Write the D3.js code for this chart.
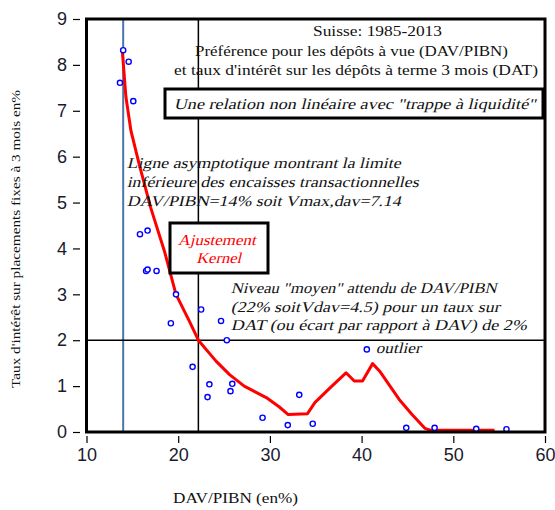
<!DOCTYPE html>
<html>
<head>
<meta charset="utf-8">
<script src="https://cdn.jsdelivr.net/npm/d3@7"></script>
<style>
  body { margin: 0; background: #fff; }
  svg { display: block; }
</style>
</head>
<body>
<svg id="chart"></svg>
<script>
// observed points: DAV/PIBN (%) vs 3-month deposit rate (%)
const davPibn = [14.0, 14.6, 13.65, 15.1, 15.83, 16.66, 16.5, 16.66, 17.64, 19.76, 22.5, 24.67, 19.2, 25.3,
                 40.57, 21.57, 23.4, 23.2, 25.7, 25.9, 29.2, 31.95, 33.2, 34.67, 44.87, 47.96, 52.5, 55.8];
const tauxDat = [8.32, 8.07, 7.61, 7.21, 4.31, 4.39, 3.51, 3.54, 3.51, 3.0, 2.67, 2.42, 2.37, 2.0,
                 1.80, 1.42, 1.04, 0.76, 0.89, 1.05, 0.31, 0.15, 0.81, 0.18, 0.09, 0.09, 0.07, 0.06];

// kernel fit
const kernelX = [13.9, 14.3, 14.85, 15.75, 17.0, 18.5, 19.76, 21.2, 22.2, 24.1, 25.6, 27.2, 29.6, 31.0, 32.0,
                 34.1, 34.9, 36.5, 38.3, 39.2, 40.1, 41.2, 41.95, 44.1, 45.5, 46.9, 47.5, 54.5];
const kernelY = [8.32, 7.3, 6.56, 5.83, 4.89, 3.94, 3.0, 2.42, 2.0, 1.55, 1.25, 1.0, 0.75, 0.55, 0.38,
                 0.40, 0.64, 0.95, 1.29, 1.11, 1.11, 1.49, 1.33, 0.71, 0.38, 0.08, 0.04, 0.04];

const xTicks = [10, 20, 30, 40, 50, 60];
const yTicks = [0, 1, 2, 3, 4, 5, 6, 7, 8, 9];

const asymptote = 14;      // DAV/PIBN lower limit
const moyenX = 22.2;       // expected level
const moyenY = 2;

const width = 555, height = 510;
const plotLeft = 86.5, plotRight = 545, plotTop = 19, plotBottom = 432;

const svg = d3.select("#chart").attr("width", width).attr("height", height);

const x = d3.scaleLinear().domain([10, 60]).range([plotLeft, plotRight]);
const y = d3.scaleLinear().domain([0, 9]).range([plotBottom, plotTop]);

const serif = "Liberation Serif, Times New Roman, serif";
const sans = "Liberation Sans, Arial, sans-serif";

// reference lines
svg.append("line")
    .attr("x1", x(asymptote)).attr("x2", x(asymptote))
    .attr("y1", plotTop).attr("y2", plotBottom)
    .attr("stroke", "#4a76a8").attr("stroke-width", 2);
svg.append("line")
    .attr("x1", x(moyenX)).attr("x2", x(moyenX))
    .attr("y1", plotTop).attr("y2", plotBottom)
    .attr("stroke", "#000").attr("stroke-width", 1.5);
svg.append("line")
    .attr("x1", plotLeft).attr("x2", plotRight)
    .attr("y1", y(moyenY)).attr("y2", y(moyenY))
    .attr("stroke", "#000").attr("stroke-width", 1.5);

// helper for text lines; italic done with a skew so it stays a serif face
function addText(str, px, py, opts) {
    const g = svg.append("g")
        .attr("transform", "translate(" + px + "," + py + ")" + (opts.italic ? " skewX(-14)" : ""));
    const t = g.append("text")
        .attr("x", 0).attr("y", 0)
        .attr("font-family", opts.family || serif)
        .attr("font-size", opts.size || 15)
        .attr("fill", opts.fill || "#111")
        .attr("text-anchor", opts.anchor || "start")
        .attr("dominant-baseline", "central")
        .text(str);
    if (opts.len) t.attr("textLength", opts.len).attr("lengthAdjust", "spacingAndGlyphs");
    return t;
}

// title (no box)
addText("Suisse: 1985-2013", 313, 31, {len: 129});
addText("Préférence pour les dépôts à vue (DAV/PIBN)", 195, 51, {len: 313});
addText("et taux d'intérêt sur les dépôts à terme 3 mois (DAT)", 174, 70, {len: 364});

// kernel curve
const kernel = kernelX.map((d, i) => [d, kernelY[i]]);
svg.append("path")
    .datum(kernel)
    .attr("fill", "none")
    .attr("stroke", "#ff0000")
    .attr("stroke-width", 3)
    .attr("stroke-linejoin", "round")
    .attr("d", d3.line().x(d => x(d[0])).y(d => y(d[1])));

// points
svg.append("g")
    .selectAll("circle")
    .data(davPibn.map((d, i) => [d, tauxDat[i]]))
    .enter()
    .append("circle")
    .attr("cx", d => x(d[0]))
    .attr("cy", d => y(d[1]))
    .attr("r", 2.6)
    .attr("fill", "#fff")
    .attr("stroke", "#0000ff")
    .attr("stroke-width", 1.4);

// boxed note
svg.append("rect")
    .attr("x", 165).attr("y", 89).attr("width", 378).attr("height", 29)
    .attr("fill", "#fff").attr("stroke", "#000").attr("stroke-width", 3);
addText("Une relation non linéaire avec \"trappe à liquidité\"", 175, 104, {italic: true, len: 362});

// asymptote note
addText("Ligne asymptotique montrant la limite", 128, 163, {italic: true, len: 274});
addText("inférieure des encaisses transactionnelles", 128, 182, {italic: true, len: 292});
addText("DAV/PIBN=14%  soit  Vmax,dav=7.14", 128, 201, {italic: true, len: 274});

// kernel label box
svg.append("rect")
    .attr("x", 170).attr("y", 223).attr("width", 98).attr("height", 50)
    .attr("fill", "#fff").attr("stroke", "#000").attr("stroke-width", 3);
addText("Ajustement", 218, 240, {italic: true, anchor: "middle", fill: "#ff0000", len: 78});
addText("Kernel", 220, 258, {italic: true, anchor: "middle", fill: "#ff0000", len: 45});

// expected level note
addText("Niveau \"moyen\" attendu de DAV/PIBN", 232, 288, {italic: true, len: 266});
addText("(22% soitVdav=4.5) pour un taux sur", 232, 307, {italic: true, len: 269});
addText("DAT (ou écart par rapport à DAV) de  2%", 232, 325, {italic: true, len: 296});
addText("outlier", 377, 348, {italic: true, len: 45});

// frame
svg.append("rect")
    .attr("x", plotLeft).attr("y", plotTop)
    .attr("width", plotRight - plotLeft).attr("height", plotBottom - plotTop)
    .attr("fill", "none").attr("stroke", "#000").attr("stroke-width", 3);

// axes (ticks detached from frame)
const yAxis = svg.append("g")
    .attr("transform", "translate(80,0)")
    .call(d3.axisLeft(y).tickValues(yTicks).tickSize(7).tickPadding(6).tickFormat(d3.format("d")));
const xAxis = svg.append("g")
    .attr("transform", "translate(0,436)")
    .call(d3.axisBottom(x).tickValues(xTicks).tickSize(7).tickPadding(5).tickFormat(d3.format("d")));

[yAxis, xAxis].forEach(a => {
    a.select(".domain").remove();
    a.selectAll(".tick line").attr("stroke", "#000").attr("stroke-width", 1.2);
    a.selectAll(".tick text")
        .attr("font-family", sans)
        .attr("font-size", 18)
        .attr("fill", "#1a1a2e");
});

// axis titles
addText("DAV/PIBN (en%)", 173, 498, {len: 125});
svg.append("text")
    .attr("transform", "translate(15,239) rotate(-90)")
    .attr("text-anchor", "middle")
    .attr("dominant-baseline", "central")
    .attr("font-family", serif)
    .attr("font-size", 13)
    .attr("fill", "#111")
    .attr("textLength", 298)
    .attr("lengthAdjust", "spacingAndGlyphs")
    .text("Taux d'intérêt sur placements fixes à 3 mois en%");
</script>
</body>
</html>
